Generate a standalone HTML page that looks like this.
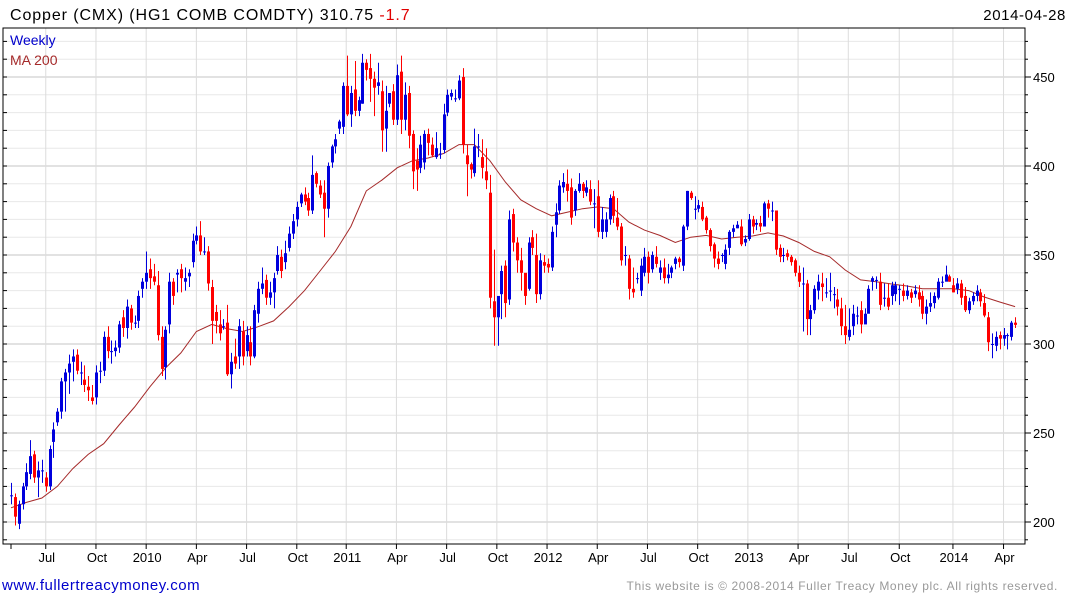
<!DOCTYPE html>
<html><head><meta charset="utf-8"><style>
html,body{margin:0;padding:0;background:#fff;}
svg{display:block;font-family:"Liberation Sans",Arial,sans-serif;}
</style></head><body>
<svg id="chart" width="1075" height="600" viewBox="0 0 1075 600">
<text x="10" y="20" font-size="16" letter-spacing="0.9" fill="#000">Copper (CMX) (HG1 COMB COMDTY) 310.75 <tspan fill="#e00000">-1.7</tspan></text>
<text x="1066" y="20" font-size="15" letter-spacing="0.6" fill="#000" text-anchor="end">2014-04-28</text>
<g id="grid"></g>
<g id="ma"></g>
<g id="candles"></g>
<rect x="3" y="28" width="1022" height="516" fill="none" stroke="#000" stroke-width="1"/>
<g id="axes"></g>
<text x="10" y="45" font-size="14" fill="#0000cc">Weekly</text>
<text x="10" y="65" font-size="14" fill="#a52a2a">MA 200</text>
<text x="2" y="590" font-size="15" letter-spacing="0.5" fill="#0000cc">www.fullertreacymoney.com</text>
<text x="1058" y="590" font-size="12" letter-spacing="0.6" fill="#999" text-anchor="end">This website is © 2008-2014 Fuller Treacy Money plc. All rights reserved.</text>
</svg>
<script>
const opens=[215,214,199,210,220,227,238,225,229,225,220,245,256,262,279,284,290,294,284,280,276,270,270,285,285,304,296,296,298,315,309,320,312,313,331,335,342,338,333,304,287,311,335,339,342,335,338,346,358,361,352,352,332,318,311,310,312,283,293,293,307,296,301,293,317,331,336,326,329,341,349,346,354,362,370,379,384,382,375,396,389,385,376,402,411,421,422,445,429,443,431,435,458,455,449,445,442,421,435,442,426,453,426,441,418,403,399,402,418,412,405,407,409,430,439,438,438,450,406,401,396,411,405,397,385,324,315,328,344,325,373,357,347,340,331,360,350,328,346,345,343,367,375,388,390,388,375,386,390,385,387,379,383,363,363,370,383,371,366,350,348,331,337,330,340,349,342,349,340,343,337,340,345,348,344,366,385,376,376,377,371,364,356,348,350,345,354,363,365,366,357,359,370,367,368,366,379,375,375,354,350,351,349,347,340,334,334,314,319,330,334,329,330,328,325,320,310,304,310,316,319,311,317,335,336,335,326,326,327,328,331,330,327,329,328,329,327,317,321,323,326,335,335,338,333,331,334,327,319,324,327,329,323,315,300,299,305,303,305,304,312];
const closes=[215,203,210,220,228,237,225,229,229,220,241,252,262,279,284,289,293,285,284,277,274,268,284,285,304,296,296,298,311,309,321,312,312,327,335,340,337,335,305,286,308,335,327,340,337,337,340,358,361,352,352,334,313,313,306,310,283,290,289,310,293,305,293,319,331,334,326,329,337,350,341,351,362,369,377,384,380,375,395,390,384,376,400,411,415,425,445,429,441,431,437,458,454,449,444,447,420,431,441,426,451,426,440,417,397,398,412,418,413,406,410,407,429,440,441,438,448,412,401,398,411,411,399,392,326,315,327,341,323,370,357,347,340,327,357,354,328,347,344,343,363,374,389,391,386,371,386,390,386,388,380,379,363,370,370,382,372,366,347,350,331,329,337,344,349,340,350,345,343,337,339,343,348,346,366,386,382,376,378,370,364,355,348,345,350,353,363,365,367,356,359,370,366,368,366,379,376,375,353,349,350,349,346,340,335,334,314,319,331,335,332,329,330,328,321,310,305,308,317,316,311,317,331,337,336,322,326,321,333,333,331,327,330,326,330,325,317,321,323,327,335,335,339,335,329,334,326,319,324,327,330,324,316,301,300,304,303,305,305,312,310.75];
const highs=[222,216,212,222,233,246,240,234,235,228,243,256,264,281,286,294,297,297,290,288,282,277,288,290,307,310,302,302,313,319,325,322,316,330,337,352,348,345,341,310,310,340,337,342,345,343,342,362,366,369,360,355,336,322,319,314,322,295,303,314,313,310,310,322,335,343,339,335,340,355,353,358,366,373,380,385,388,385,406,397,392,392,402,412,418,426,447,462,445,459,439,463,460,463,453,458,448,445,441,446,457,462,447,445,420,410,417,420,421,416,419,413,435,443,443,443,451,455,412,402,421,418,415,410,395,353,327,344,347,375,376,360,354,337,360,364,362,351,350,348,366,379,392,396,398,393,387,396,391,392,392,387,392,377,374,384,386,382,368,355,350,343,340,348,354,352,352,355,347,348,345,344,349,349,367,386,386,383,381,380,372,365,357,352,351,356,364,367,369,370,361,373,372,370,372,380,381,380,375,356,354,353,350,348,344,343,336,322,333,339,340,337,340,332,331,326,322,320,322,321,324,320,333,338,338,340,334,334,335,335,333,334,333,331,333,333,330,325,329,329,337,338,344,339,337,337,336,332,326,329,333,331,328,318,306,307,307,309,306,313,315];
const lows=[210,198,196,207,218,224,222,214,222,217,218,236,254,258,262,272,279,283,277,273,268,266,266,278,282,292,289,293,295,304,303,308,309,309,326,331,331,333,302,282,280,306,322,329,329,330,332,343,356,350,350,330,300,306,302,308,282,275,286,286,288,293,288,292,312,328,322,322,320,339,337,342,352,359,366,377,378,372,373,388,382,360,371,399,407,418,418,428,422,428,428,435,448,436,428,440,408,408,433,423,423,418,420,410,387,386,396,398,406,405,404,404,407,428,437,436,437,407,383,393,394,405,393,387,320,299,299,314,315,322,352,340,330,322,330,350,323,325,340,340,341,360,373,385,380,367,372,385,382,383,378,365,360,359,360,367,368,364,344,344,325,326,334,327,338,334,340,343,336,334,334,337,342,343,341,364,381,370,374,369,362,352,343,342,346,342,350,360,365,355,355,358,362,364,363,367,371,369,350,346,346,347,344,338,332,307,305,305,317,325,324,326,324,320,316,305,300,302,305,311,306,316,326,330,331,319,321,319,322,324,322,324,325,323,326,321,314,311,318,320,325,332,336,335,329,328,322,318,317,322,324,321,315,296,292,296,297,299,297,302,309];
const maWeeks=[0,4,8,12,16,20,24,28,32,36,40,44,48,52,56,60,64,68,72,76,80,84,88,92,96,100,104,108,112,116,120,124,128,132,136,140,144,148,152,156,160,164,168,172,176,180,184,188,192,196,200,204,208,212,216,220,224,228,232,236,240,244,248,252,256,260];
const maValues=[208,211,213.5,220,230,238,244,254.5,264.6,276,286.5,295,307,311,308.6,307,309.7,313,321,330,341,352,366,386,392,399,403,404.5,407,412,412,403,391,381,376,372,374,376,377,376,368.5,364,361,357,360,361,359,360,360.7,362.4,360.7,357,352,349,341.6,336,335,333.7,332.6,331,331,331,330,326.4,323.6,321];
const yTicks=[200,250,300,350,400,450];
const xTickWeeks=[9,22,35,48,61,74,86.8,99.8,112.8,125.8,138.8,151.8,164.8,177.8,190.8,203.8,216.8,230,243.9,257];
const xTickLabels=["Jul","Oct","2010","Apr","Jul","Oct","2011","Apr","Jul","Oct","2012","Apr","Jul","Oct","2013","Apr","Jul","Oct","2014","Apr"];

const NS="http://www.w3.org/2000/svg";
function xOf(i){return 11+i*3.862;}
function yOf(v){return 344-(v-300)*1.78;}
function mk(tag,attrs,parent){const e=document.createElementNS(NS,tag);for(const k in attrs)e.setAttribute(k,attrs[k]);parent.appendChild(e);return e;}
const grid=document.getElementById('grid'),axes=document.getElementById('axes'),cg=document.getElementById('candles'),mg=document.getElementById('ma');
for(let v=190;v<=470;v+=10){const y=yOf(v);if(y<29||y>543)continue;const major=v%50===0;
 const l=mk('line',{x1:3,x2:1025,y1:y,y2:y,stroke:major?'#c4c4c4':'#e8e8e8','stroke-width':1},grid);
 
 
 const t=mk('line',{x1:3,x2:7,y1:y,y2:y,stroke:'#000','stroke-width':1},axes);
 
 
 const rt=mk('line',{x1:1025,x2:major?1031:1028,y1:y,y2:y,stroke:'#000','stroke-width':1},axes);
 
 }
yTicks.forEach(v=>{const t=mk('text',{x:1033,y:yOf(v)+5,'font-size':13,fill:'#000'},axes);t.textContent=v;
 
 });
xTickWeeks.forEach((w,k)=>{const x=xOf(w);
 const g=mk('line',{x1:x,x2:x,y1:28,y2:544,stroke:'#dcdcdc','stroke-width':1},grid);
 
 
 const t=mk('line',{x1:x,x2:x,y1:544,y2:549,stroke:'#000','stroke-width':1},axes);
 
 
 const tx=mk('text',{x:x+1,y:562,'font-size':13,fill:'#000','text-anchor':'middle'},axes);tx.textContent=xTickLabels[k];
 
 });
const t0=mk('line',{x1:xOf(0),x2:xOf(0),y1:544,y2:549,stroke:'#000'},axes);


const pts=maWeeks.map((w,k)=>xOf(w).toFixed(1)+','+yOf(maValues[k]).toFixed(1)).join(' ');
const ml=mk('polyline',{points:pts,fill:'none',stroke:'#a52a2a','stroke-width':1},mg);


closes.forEach((c,i)=>{const o=opens[i];const col=c>=o?'#0000dd':'#ff0000';const x=Math.round(xOf(i));
 const g=mk('g',{},cg);
 
 
 mk('line',{x1:x+0.5,x2:x+0.5,y1:yOf(highs[i]),y2:yOf(lows[i]),stroke:col,'stroke-width':1},g);
 const top=yOf(Math.max(o,c)),bot=yOf(Math.min(o,c));
 mk('rect',{x:x-1,y:top,width:3,height:Math.max(1,bot-top),fill:col},g);});
</script>
</body></html>
